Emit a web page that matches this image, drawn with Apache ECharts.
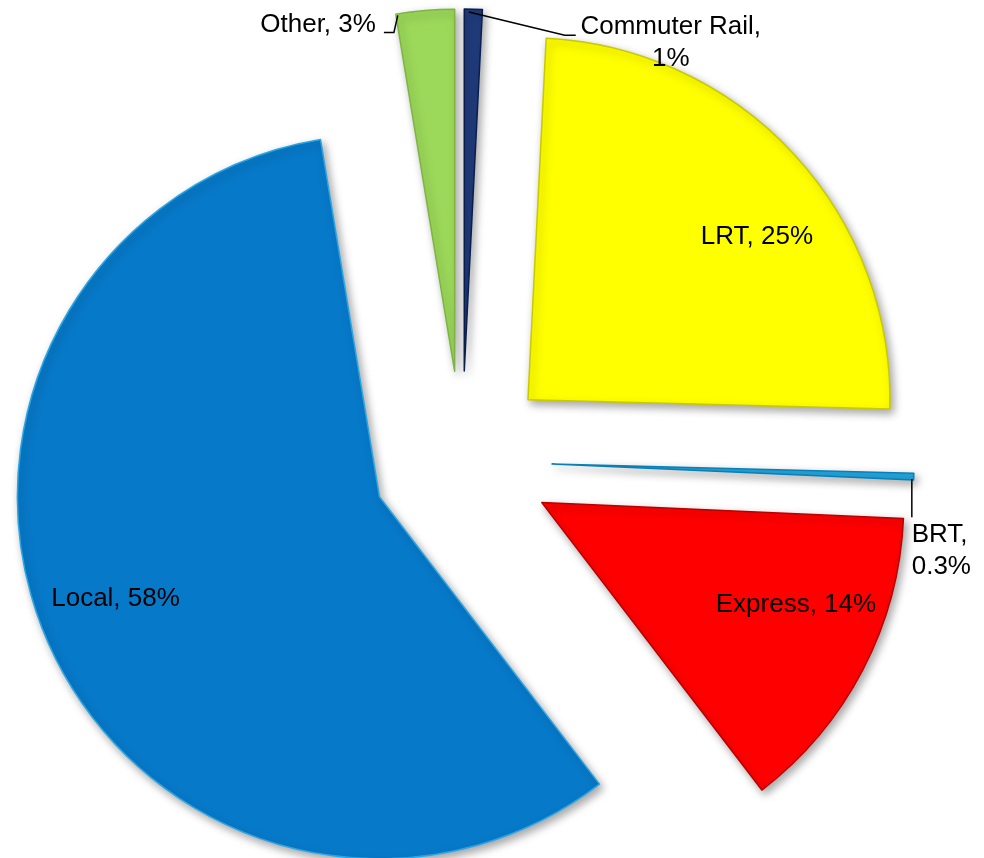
<!DOCTYPE html>
<html><head><meta charset="utf-8">
<script src="https://cdn.jsdelivr.net/npm/echarts@6/dist/echarts.min.js"></script>
<style>html,body{margin:0;padding:0;background:#fff}#c{width:984px;height:858px}</style>
</head><body><div id="c"></div>
<script>
// Data (clockwise from 12 o'clock)
const categories = ['Commuter Rail', 'LRT', 'BRT', 'Express', 'Local', 'Other'];
const shares = [0.8, 24.6, 0.3, 13.9, 57.8, 2.6];
const pctLabels = ['1%', '25%', '0.3%', '14%', '58%', '3%'];

// Styling
const colors = ['#1F3B7A', '#FFFF00', '#22A7E0', '#FF0000', '#0779C9', '#9CD95A'];
const edgeColors = ['#0B1E4F', '#C9C900', '#0A7FB5', '#B80000', '#2AA5E4', '#7DB540'];
const labelPlacement = ['outside', 'inside', 'outside', 'inside', 'inside', 'outside'];
// label shift from the library's default (exploded) placement, px
const labelShift = [[90, 49], [94, -38], [-32, 74], [91, 17], [-95, 29], [-33, 29]];

const FONT = "'Liberation Sans', Arial, sans-serif";
const CENTER = [462, 461];
const RADIUS = 362;
const EXPLODE = 90;

const chart = echarts.init(document.getElementById('c'), null, { renderer: 'canvas' });

// explode vector of each slice (same as the library's selectedOffset direction)
const total = shares.reduce((a, b) => a + b, 0);
const explodeVec = [];
{
  let cum = 0;
  shares.forEach(v => {
    const mid = (cum + v / 2) / total * 2 * Math.PI; // clockwise from 12 o'clock
    explodeVec.push([Math.sin(mid) * EXPLODE, -Math.cos(mid) * EXPLODE]);
    cum += v;
  });
}

function labelText(i) {
  const name = categories[i], p = pctLabels[i];
  if (i === 0) return '{c|' + name + ',}\n{c|' + p + '}';
  if (i === 2) return name + ',\n' + p;
  return name + ', ' + p;
}

function leader(i, r, lx, ly, lw) {
  if (i === 0) { // Commuter Rail: from slice top to the left of the label
    return [[r.x + r.width * 0.25, r.y + 3], [lx - 14, ly + 24], [lx - 3, ly + 24]];
  }
  if (i === 5) { // Other: from slice top-left to the right of the label
    return [[r.x + 2, r.y + 6], [lx + lw + 18, ly + 24], [lx + lw + 8, ly + 24]];
  }
  if (i === 2) { // BRT: straight down from the slice tip
    const x = r.x + r.width - 2, y = r.y + r.height - 1;
    return [[x, y], [x, (y + ly) / 2], [x, ly - 2]];
  }
  return null;
}

const sliceData = categories.map((n, i) => ({
  name: n,
  value: shares[i],
  selected: true,
  itemStyle: { color: colors[i], borderColor: edgeColors[i] }
}));

const labelData = categories.map((n, i) => ({
  name: n,
  value: shares[i],
  label: { position: labelPlacement[i], formatter: () => labelText(i) },
  labelLine: { show: labelPlacement[i] === 'outside' }
}));

chart.setOption({
  animation: false,
  backgroundColor: '#ffffff',
  series: [{
    // exploded slices
    type: 'pie',
    center: CENTER,
    radius: [0, RADIUS],
    startAngle: 90,
    clockwise: true,
    selectedMode: 'multiple',
    selectedOffset: EXPLODE,
    silent: true,
    emphasis: { disabled: true },
    label: { show: false },
    labelLine: { show: false },
    itemStyle: {
      borderWidth: 1.5,
      shadowBlur: 8,
      shadowOffsetX: 3,
      shadowOffsetY: 4,
      shadowColor: 'rgba(0,0,0,0.35)'
    },
    data: sliceData
  }, {
    // labels for the same slices
    type: 'pie',
    center: CENTER,
    radius: [0, RADIUS],
    startAngle: 90,
    clockwise: true,
    avoidLabelOverlap: false,
    silent: true,
    z: 5,
    emphasis: { disabled: true },
    itemStyle: { color: 'rgba(0,0,0,0)', borderWidth: 0 },
    label: {
      color: '#000',
      fontFamily: FONT,
      fontSize: 26,
      lineHeight: 32,
      rich: { c: { fontFamily: FONT, fontSize: 26, lineHeight: 32, width: 184, align: 'center', color: '#000' } }
    },
    labelLine: { length: 15, length2: 10, lineStyle: { color: '#000', width: 1.5 } },
    labelLayout: function (params) {
      const i = params.dataIndex;
      const s = labelShift[i], e = explodeVec[i];
      const lr = params.labelRect;
      const lx = lr.x + e[0] + s[0], ly = lr.y + e[1] + s[1];
      const out = { x: lx, y: ly, align: 'left', verticalAlign: 'top' };
      const r = params.rect;
      const er = { x: r.x + e[0], y: r.y + e[1], width: r.width, height: r.height };
      const pts = leader(i, er, lx, ly, lr.width);
      if (pts) out.labelLinePoints = pts;
      return out;
    },
    data: labelData
  }]
});
</script>
</body></html>
